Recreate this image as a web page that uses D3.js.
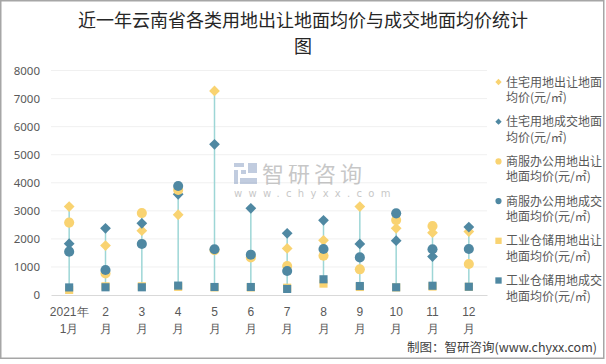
<!DOCTYPE html>
<html><head><meta charset="utf-8">
<script src="https://cdn.jsdelivr.net/npm/d3@7/dist/d3.min.js"></script>
<style>
html,body{margin:0;padding:0;background:#fff;}
svg{display:block;font-family:"Noto Sans CJK SC","Microsoft YaHei",sans-serif;}
</style></head>
<body>
<svg id="c" width="606" height="364"></svg>
<script>
const months = ["2021年\n1月","2\n月","3\n月","4\n月","5\n月","6\n月","7\n月","8\n月","9\n月","10\n月","11\n月","12\n月"];
const yTicks = [0,1000,2000,3000,4000,5000,6000,7000,8000];
const resSell   = [3150,1760,2290,2860,7270,null,1660,1950,3150,2375,2220,2260];
const resDeal   = [1830,2375,2555,3590,5370,3090,2200,2660,1820,1935,1370,2420];
const comSell   = [2580,770,2920,3740,1600,1340,1035,1400,915,2670,2460,1105];
const comDeal   = [1545,890,1820,3885,1630,1437,855,1640,1340,2910,1630,1640];
const indSell   = [180,310,310,290,270,270,260,405,285,270,300,290];
const indDeal   = [270,275,275,335,285,285,215,560,320,275,330,295];
const seriesNames = [
  ["住宅用地出让地面","均价(元/㎡)"],
  ["住宅用地成交地面","均价(元/㎡)"],
  ["商服办公用地出让","地面均价(元/㎡)"],
  ["商服办公用地成交","地面均价(元/㎡)"],
  ["工业仓储用地出让","地面均价(元/㎡)"],
  ["工业仓储用地成交","地面均价(元/㎡)"]
];
const YEL = "#F9D371", BLU = "#4F88A2";
const series = [
  {v:resSell, c:YEL, s:"diamond"},
  {v:resDeal, c:BLU, s:"diamond"},
  {v:comSell, c:YEL, s:"circle"},
  {v:comDeal, c:BLU, s:"circle"},
  {v:indSell, c:YEL, s:"square"},
  {v:indDeal, c:BLU, s:"square"}
];

const svg = d3.select("#c");
// frame
svg.append("rect").attr("x",0.75).attr("y",0.75).attr("width",603).attr("height",357.5)
  .attr("fill","none").attr("stroke","#a6a6a6").attr("stroke-width",1.5);

// title
const title = svg.append("text").attr("text-anchor","middle").attr("fill","#262626")
  .style("font-size","18px");
title.append("tspan").attr("x",303).attr("y",27).text("近一年云南省各类用地出让地面均价与成交地面均价统计");
title.append("tspan").attr("x",303).attr("y",53).text("图");

const x = d3.scaleBand().domain(d3.range(months.length)).range([51,487]);
const y = d3.scaleLinear().domain([0,8000]).range([295,70.5]);

// grid
svg.append("g").selectAll("line").data(yTicks.filter(d=>d>0)).join("line")
  .attr("x1",51).attr("x2",487).attr("y1",d=>y(d)).attr("y2",d=>y(d))
  .attr("stroke","#f0f0f0").attr("stroke-width",1);

// y axis
const yAx = svg.append("g").attr("transform","translate(51,0)")
  .call(d3.axisLeft(y).tickValues(yTicks).tickSize(0).tickPadding(11).tickFormat(d3.format("d")));
yAx.select(".domain").remove();
yAx.selectAll("text").attr("fill","#595959").style("font-size","11.5px")
  .style("font-family","'Noto Sans','DejaVu Sans',sans-serif");

// x axis
const xAx = svg.append("g").attr("transform","translate(0,295)")
  .call(d3.axisBottom(x).tickSize(0).tickFormat(""));
xAx.select(".domain").attr("stroke","#d9d9d9").attr("stroke-width",1.2);
xAx.selectAll(".tick").each(function(d){
  const lines = months[d].split("\n");
  const t = d3.select(this).append("text").attr("fill","#595959").attr("text-anchor","middle")
    .style("font-size","12px");
  lines.forEach((l,i)=>t.append("tspan").attr("x",0).attr("y",21+i*17).text(l));
});

// watermark
const wm = svg.append("g").attr("opacity",0.55);
wm.append("rect").attr("x",234).attr("y",163).attr("width",10).attr("height",4).attr("fill","#8fa3c6");
wm.append("rect").attr("x",234).attr("y",170).attr("width",4).attr("height",14).attr("fill","#8fa3c6");
wm.append("rect").attr("x",241).attr("y",170).attr("width",5).attr("height",4).attr("fill","#8fa3c6");
wm.append("rect").attr("x",248).attr("y",163).attr("width",9).attr("height",10).attr("fill","#8fa3c6");
wm.append("rect").attr("x",240).attr("y",178).attr("width",17).attr("height",6).attr("fill","#8fa3c6");
wm.append("text").attr("x",262).attr("y",182).attr("fill","#9a9a9a").style("font-size","22px")
  .style("letter-spacing","4px").text("智研咨询");
wm.append("text").attr("x",234).attr("y",197).attr("fill","#9a9a9a").style("font-size","10px")
  .style("letter-spacing","6.3px").style("font-family","'DejaVu Sans',sans-serif").text("www.chyxx.com");

// high-low lines
const hl = svg.append("g");
months.forEach((m,i)=>{
  const vals = series.map(s=>s.v[i]).filter(v=>v!=null);
  hl.append("line").attr("x1",x(i)+x.bandwidth()/2).attr("x2",x(i)+x.bandwidth()/2)
    .attr("y1",y(d3.min(vals))).attr("y2",y(d3.max(vals)))
    .attr("stroke","#9dd6d6").attr("stroke-width",1.5);
});

// marker: [symbol type, area, rotation]
const symFor = {diamond:[d3.symbolSquare,58,45], circle:[d3.symbolCircle,80,0], square:[d3.symbolSquare,66,0]};
series.forEach(s=>{
  const [t,sz,rot] = symFor[s.s];
  svg.append("g").selectAll("path").data(s.v.map((v,i)=>({v,i})).filter(d=>d.v!=null)).join("path")
    .attr("d",d3.symbol().type(t).size(sz))
    .attr("transform",d=>`translate(${x(d.i)+x.bandwidth()/2},${y(d.v)}) rotate(${rot})`)
    .attr("fill",s.c);
});

// legend
const lg = svg.append("g");
series.forEach((s,i)=>{
  const yy = 82 + i*39.7;
  const small = {diamond:[d3.symbolSquare,20,45], circle:[d3.symbolCircle,30,0], square:[d3.symbolSquare,40,0]}[s.s];
  lg.append("path").attr("d",d3.symbol().type(small[0]).size(small[1]))
    .attr("transform",`translate(498.5,${yy}) rotate(${small[2]})`).attr("fill",s.c);
  const t = lg.append("text").attr("fill","#595959").style("font-size","12px");
  seriesNames[i].forEach((l,j)=>t.append("tspan").attr("x",506).attr("y",yy+4.5+j*15.5).text(l));
});

// footer
svg.append("text").attr("x",597).attr("y",352).attr("text-anchor","end").attr("fill","#404040")
  .style("font-size","12.5px").text("制图：智研咨询(www.chyxx.com)");
</script>
</body></html>
